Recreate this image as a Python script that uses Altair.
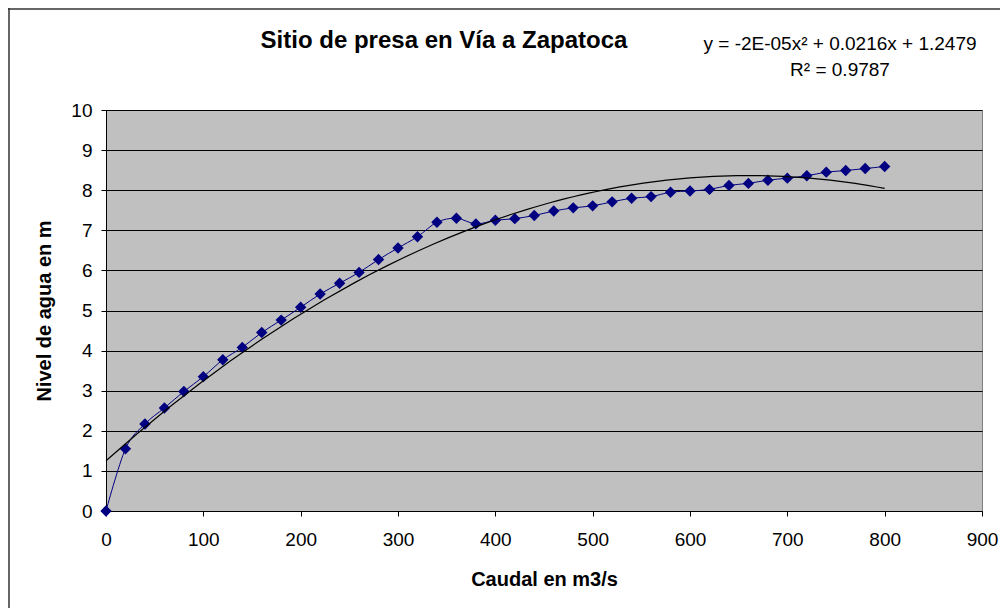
import altair as alt
import pandas as pd

caudal = [0, 20, 40, 60, 80, 100, 120, 140, 160, 180, 200, 220, 240, 260, 280,
          300, 320, 340, 360, 380, 400, 420, 440, 460, 480, 500, 520, 540, 560,
          580, 600, 620, 640, 660, 680, 700, 720, 740, 760, 780, 800]
nivel = [0, 1.55, 2.17, 2.57, 2.98, 3.35, 3.77, 4.08, 4.45, 4.76, 5.08, 5.41,
         5.68, 5.95, 6.27, 6.56, 6.84, 7.20, 7.30, 7.16, 7.25, 7.29, 7.37, 7.48,
         7.56, 7.61, 7.71, 7.80, 7.84, 7.95, 7.98, 8.02, 8.12, 8.17, 8.25, 8.30,
         8.36, 8.45, 8.49, 8.54, 8.59]
x_ticks = [0, 100, 200, 300, 400, 500, 600, 700, 800, 900]
y_ticks = [0, 1, 2, 3, 4, 5, 6, 7, 8, 9, 10]
title_text = "Sitio de presa en Vía a Zapatoca"
eq_lines = ["y = -2E-05x² + 0.0216x + 1.2479", "R² = 0.9787"]

df = pd.DataFrame({"caudal": caudal, "nivel": nivel})
FONT = "Liberation Sans"

xenc = alt.X("caudal:Q", scale=alt.Scale(domain=[0, 900], nice=False),
             axis=alt.Axis(values=x_ticks, title="Caudal en m3/s", grid=False,
                           labelFontSize=19, titleFontSize=20, titleFontWeight="bold",
                           labelPadding=14, titlePadding=20, tickSize=5,
                           tickColor="black", domainColor="black", labelColor="black",
                           titleColor="black", labelFont=FONT, titleFont=FONT,
                           labelFlush=False))
yenc = alt.Y("nivel:Q", scale=alt.Scale(domain=[0, 10], nice=False),
             axis=alt.Axis(values=y_ticks, title="Nivel de agua en m", grid=True,
                           gridColor="black", gridOpacity=1, gridWidth=1,
                           labelFontSize=19, titleFontSize=20, titleFontWeight="bold",
                           labelPadding=9, titlePadding=16, tickSize=5,
                           tickColor="black", domainColor="black", labelColor="black",
                           titleColor="black", labelFont=FONT, titleFont=FONT,
                           labelFlush=False))

base = alt.Chart(df)

line = base.mark_line(color="#000080", strokeWidth=1, interpolate="cardinal").encode(x=xenc, y=yenc)
points = base.mark_point(shape="diamond", filled=True, color="#000080", size=130, opacity=1).encode(
    x="caudal:Q", y="nivel:Q")
trend = base.transform_regression("caudal", "nivel", method="poly", order=2,
                                  extent=[0, 800]).mark_line(
    color="black", strokeWidth=1.2).encode(x="caudal:Q", y="nivel:Q")

one = pd.DataFrame({"t": [0]})
title = alt.Chart(one).mark_text(
    font=FONT, fontSize=24, fontWeight="bold", color="black", align="center",
    baseline="middle").encode(x=alt.value(338), y=alt.value(-69), text=alt.value(title_text))
eq = alt.Chart(one).mark_text(
    font=FONT, fontSize=19, color="black", align="center", baseline="middle",
    lineHeight=26).encode(x=alt.value(734), y=alt.value(-66), text=alt.value(eq_lines))

border_left = alt.Chart(one).mark_rule(color="#333333", strokeWidth=1.5).encode(
    x=alt.value(-97), y=alt.value(-102), y2=alt.value(498))
border_top = alt.Chart(one).mark_rule(color="#333333", strokeWidth=1.5).encode(
    x=alt.value(-98), x2=alt.value(900), y=alt.value(-101))

chart = alt.layer(line, points, trend, title, eq, border_left, border_top).properties(
    width=876, height=401,
    autosize=alt.AutoSizeParams(type="none"),
    padding={"left": 98, "top": 102, "right": 18, "bottom": 97},
    background="white",
).configure_view(fill="#C0C0C0", stroke="#808080", strokeWidth=1)

chart.save("out.html", embed_options={"renderer": "svg", "actions": False})
